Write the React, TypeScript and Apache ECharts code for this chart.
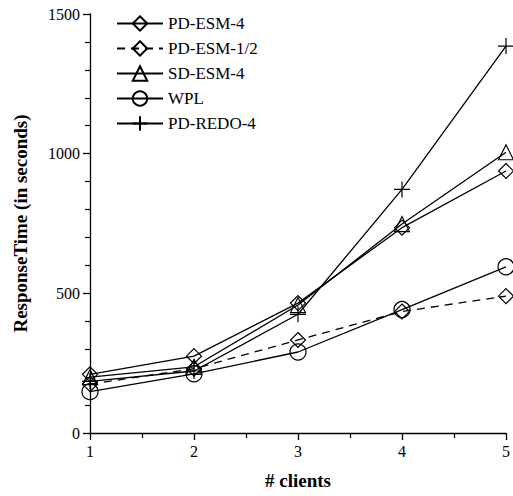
import React, { useEffect, useRef } from "react";
import * as echarts from "echarts";

const clients = [1, 2, 3, 4, 5];
const pdEsm4 = [210, 275, 465, 735, 938];
const pdEsmHalf = [175, 230, 333, 435, 490];
const sdEsm4 = [200, 237, 458, 748, 1005];
const wpl = [148, 212, 290, 442, 595];
const pdRedo4 = [185, 222, 425, 872, 1385];
const yTicks = [0, 500, 1000, 1500];

const FONT = "'Liberation Serif', 'Times New Roman', serif";
const PLUS = "path://M0,5 L10,5 M5,0 L5,10";

function mk(name: string, values: number[], symbol: string, size: number, dashed = false) {
  return {
    name,
    type: "line",
    data: clients.map((c, i) => [c, values[i]]),
    symbol,
    symbolSize: size,
    clip: false,
    itemStyle: { color: "rgba(0,0,0,0)", borderColor: "#000", borderWidth: 1.2 },
    lineStyle: { color: "#000", width: 1.3, type: dashed ? [8, 6] : "solid" },
    emphasis: { disabled: true },
  };
}

export default function App() {
  const ref = useRef<HTMLDivElement>(null);
  useEffect(() => {
    if (!ref.current) return;
    const chart = echarts.init(ref.current, undefined, { renderer: "svg" });
    chart.setOption({
      animation: false,
      backgroundColor: "#fff",
      textStyle: { fontFamily: FONT },
      grid: { left: 90, right: 5, top: 14, bottom: 63 },
      legend: {
        orient: "vertical",
        left: 111,
        top: 10,
        itemWidth: 46,
        itemHeight: 18,
        itemGap: 8,
        textStyle: { fontFamily: FONT, fontSize: 17, color: "#000" },
        data: ["PD-ESM-4", "PD-ESM-1/2", "SD-ESM-4", "WPL", "PD-REDO-4"],
      },
      xAxis: {
        type: "value",
        min: 1,
        max: 5,
        interval: 1,
        name: "# clients",
        nameLocation: "middle",
        nameGap: 38,
        nameTextStyle: { fontFamily: FONT, fontSize: 19, fontWeight: "bold", color: "#000" },
        axisLine: { lineStyle: { color: "#000", width: 1.3 } },
        axisTick: { inside: false, length: 7, lineStyle: { color: "#000", width: 1.3 } },
        minorTick: { show: true, splitNumber: 2, length: 5, lineStyle: { color: "#000", width: 1.2 } },
        axisLabel: { fontFamily: FONT, fontSize: 16, color: "#000", margin: 10 },
        splitLine: { show: false },
      },
      yAxis: {
        type: "value",
        min: yTicks[0],
        max: yTicks[yTicks.length - 1],
        interval: 500,
        name: "ResponseTime (in seconds)",
        nameLocation: "middle",
        nameGap: 60,
        nameTextStyle: { fontFamily: FONT, fontSize: 19, fontWeight: "bold", color: "#000" },
        axisLine: { show: true, lineStyle: { color: "#000", width: 1.3 } },
        axisTick: { show: true, inside: false, length: 7, lineStyle: { color: "#000", width: 1.3 } },
        minorTick: { show: true, splitNumber: 5, length: 5, lineStyle: { color: "#000", width: 1.2 } },
        axisLabel: {
          fontFamily: FONT,
          fontSize: 16,
          color: "#000",
          margin: 10,
          formatter: (v: number) => String(v),
        },
        splitLine: { show: false },
      },
      series: [
        mk("PD-ESM-4", pdEsm4, "diamond", 15),
        mk("PD-ESM-1/2", pdEsmHalf, "diamond", 15, true),
        mk("SD-ESM-4", sdEsm4, "triangle", 15),
        mk("WPL", wpl, "circle", 16),
        mk("PD-REDO-4", pdRedo4, PLUS, 16),
      ],
    });
    return () => chart.dispose();
  }, []);
  return <div ref={ref} style={{ width: 513, height: 496, position: "absolute", left: 0, top: 0 }} />;
}
